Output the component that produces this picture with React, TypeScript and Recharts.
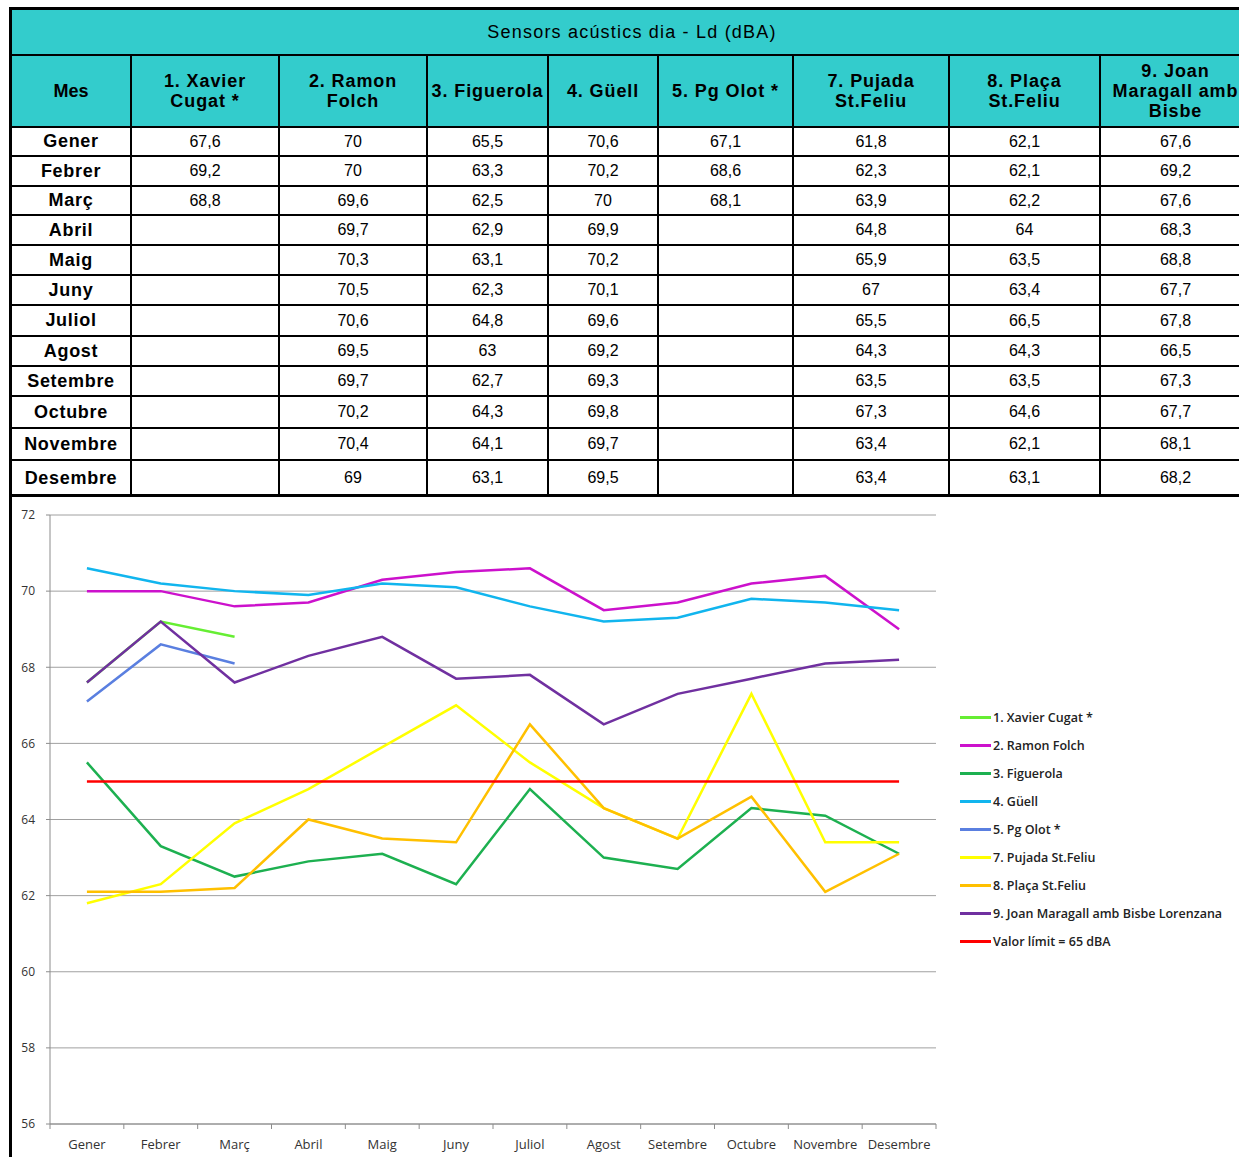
import React from "react";
import { CartesianGrid, Line, LineChart, XAxis, YAxis } from "recharts";

const months = [
  "Gener", "Febrer", "Març", "Abril", "Maig", "Juny",
  "Juliol", "Agost", "Setembre", "Octubre", "Novembre", "Desembre",
];

const xavierCugat = [67.6, 69.2, 68.8, null, null, null, null, null, null, null, null, null];
const ramonFolch = [70, 70, 69.6, 69.7, 70.3, 70.5, 70.6, 69.5, 69.7, 70.2, 70.4, 69];
const figuerola = [65.5, 63.3, 62.5, 62.9, 63.1, 62.3, 64.8, 63, 62.7, 64.3, 64.1, 63.1];
const guell = [70.6, 70.2, 70, 69.9, 70.2, 70.1, 69.6, 69.2, 69.3, 69.8, 69.7, 69.5];
const pgOlot = [67.1, 68.6, 68.1, null, null, null, null, null, null, null, null, null];
const pujadaStFeliu = [61.8, 62.3, 63.9, 64.8, 65.9, 67, 65.5, 64.3, 63.5, 67.3, 63.4, 63.4];
const placaStFeliu = [62.1, 62.1, 62.2, 64, 63.5, 63.4, 66.5, 64.3, 63.5, 64.6, 62.1, 63.1];
const joanMaragall = [67.6, 69.2, 67.6, 68.3, 68.8, 67.7, 67.8, 66.5, 67.3, 67.7, 68.1, 68.2];
const valorLimit = [65, 65, 65, 65, 65, 65, 65, 65, 65, 65, 65, 65];

const yTicks = [56, 58, 60, 62, 64, 66, 68, 70, 72];

const series = [
  { key: "s1", name: "1. Xavier Cugat *", header: ["1. Xavier", "Cugat *"], color: "#66EE33", data: xavierCugat },
  { key: "s2", name: "2. Ramon Folch", header: ["2. Ramon", "Folch"], color: "#CC11CC", data: ramonFolch },
  { key: "s3", name: "3. Figuerola", header: ["3. Figuerola"], color: "#1DB050", data: figuerola },
  { key: "s4", name: "4. Güell", header: ["4. Güell"], color: "#11B5EE", data: guell },
  { key: "s5", name: "5. Pg Olot *", header: ["5. Pg Olot *"], color: "#5A7FE0", data: pgOlot },
  { key: "s7", name: "7. Pujada St.Feliu", header: ["7. Pujada", "St.Feliu"], color: "#FFFF00", data: pujadaStFeliu },
  { key: "s8", name: "8. Plaça St.Feliu", header: ["8. Plaça", "St.Feliu"], color: "#FFC000", data: placaStFeliu },
  { key: "s9", name: "9. Joan Maragall amb Bisbe Lorenzana", header: ["9. Joan", "Maragall amb", "Bisbe"], color: "#7030A0", data: joanMaragall },
];

const limitSeries = { key: "limit", name: "Valor límit = 65 dBA", color: "#FF0000", data: valorLimit };

const chartData = months.map((m, i) => {
  const row: Record<string, string | number | null> = { month: m, limit: valorLimit[i] };
  series.forEach((s) => {
    row[s.key] = s.data[i];
  });
  return row;
});

const colWidths = [120, 148, 148, 121, 110, 135, 156, 151, 151];
const rowHeights = [29, 30, 29, 30, 30, 30, 31, 30, 30, 32, 32, 36];
const teal = "#33CCCC";
const tableFont = "'Liberation Sans', Arial, sans-serif";
const chartFont = "'Open Sans', 'Noto Sans', sans-serif";

const fmt = (v: number | null) => (v == null ? "" : String(v).replace(".", ","));

const plotWidth = 886;
const bandWidth = plotWidth / months.length;

const MonthTick = (props: any) => {
  const { x, y, payload, index } = props;
  const left = x - bandWidth / 2;
  const right = x + bandWidth / 2;
  return (
    <g>
      <line x1={left} y1={y} x2={left} y2={y + 5} stroke="#8c8c8c" strokeWidth={1} />
      {index === months.length - 1 && (
        <line x1={right} y1={y} x2={right} y2={y + 5} stroke="#8c8c8c" strokeWidth={1} />
      )}
      <text x={x} y={y + 25} textAnchor="middle" fontSize={13} fontWeight={500} fill="#333" fontFamily={chartFont}>
        {payload.value}
      </text>
    </g>
  );
};

function DataTable() {
  const cell = (w: number, h: number, extra: React.CSSProperties = {}): React.CSSProperties => ({
    width: w,
    height: h,
    boxSizing: "border-box",
    borderRight: "2px solid #000",
    display: "flex",
    alignItems: "center",
    justifyContent: "center",
    textAlign: "center",
    flexShrink: 0,
    ...extra,
  });
  return (
    <div
      style={{
        position: "absolute",
        left: 9,
        top: 7,
        width: 1260,
        borderLeft: "3px solid #000",
        borderTop: "3px solid #000",
        fontFamily: tableFont,
        color: "#000",
      }}
    >
      <div
        style={{
          height: 46,
          boxSizing: "border-box",
          background: teal,
          borderBottom: "2px solid #000",
          display: "flex",
          alignItems: "center",
          justifyContent: "center",
          fontSize: 18,
          letterSpacing: 1.2,
          width: colWidths.reduce((a, b) => a + b, 0),
        }}
      >
        Sensors acústics dia - Ld (dBA)
      </div>
      <div style={{ display: "flex", borderBottom: "2px solid #000", height: 72, boxSizing: "border-box" }}>
        <div style={cell(colWidths[0], 70, { background: teal, fontWeight: "bold", fontSize: 18 })}>Mes</div>
        {series.map((s, i) => (
          <div
            key={s.key}
            style={cell(colWidths[i + 1], 70, {
              background: teal,
              fontWeight: "bold",
              fontSize: 18,
              lineHeight: "20px",
              flexDirection: "column",
              letterSpacing: 0.9,
              whiteSpace: "nowrap",
            })}
          >
            {s.header.map((l) => (
              <span key={l}>{l}</span>
            ))}
          </div>
        ))}
      </div>
      {months.map((m, r) => (
        <div
          key={m}
          style={{
            display: "flex",
            height: rowHeights[r],
            boxSizing: "border-box",
            borderBottom: r === months.length - 1 ? "3px solid #000" : "2px solid #000",
            background: "#fff",
          }}
        >
          <div style={cell(colWidths[0], rowHeights[r] - 2, { fontWeight: "bold", fontSize: 18, letterSpacing: 0.7 })}>
            {m}
          </div>
          {series.map((s, i) => (
            <div key={s.key} style={cell(colWidths[i + 1], rowHeights[r] - 2, { fontSize: 16 })}>
              {fmt(s.data[r])}
            </div>
          ))}
        </div>
      ))}
    </div>
  );
}

function ChartLegend() {
  const items = [...series, limitSeries];
  return (
    <div
      style={{
        position: "absolute",
        left: 960,
        top: 703,
        fontFamily: chartFont,
        fontSize: 12.5,
        fontWeight: 600,
        color: "#222",
      }}
    >
      {items.map((s) => (
        <div key={s.key} style={{ display: "flex", alignItems: "center", height: 28, whiteSpace: "nowrap" }}>
          <span style={{ display: "inline-block", width: 31, height: 3, background: s.color, marginRight: 2 }} />
          <span>{s.name}</span>
        </div>
      ))}
    </div>
  );
}

export default function App() {
  return (
    <div style={{ position: "absolute", left: 0, top: 0, width: 1239, height: 1157, overflow: "hidden", background: "#fff" }}>
      <DataTable />
      <div style={{ position: "absolute", left: 9, top: 496, width: 3, height: 661, background: "#000" }} />
      <div style={{ position: "absolute", left: 0, top: 496 }}>
        <LineChart
          width={1239}
          height={661}
          data={chartData}
          margin={{ top: 19, right: 303, bottom: 0, left: 0 }}
        >
          <CartesianGrid horizontal vertical={false} stroke="#a0a0a0" strokeWidth={1} />
          <XAxis
            dataKey="month"
            scale="band"
            interval={0}
            height={33}
            axisLine={{ stroke: "#8c8c8c" }}
            tickLine={false}
            tickSize={0}
            tickMargin={0}
            tick={<MonthTick />}
          />
          <YAxis
            type="number"
            domain={[56, 72]}
            ticks={yTicks}
            width={50}
            axisLine={{ stroke: "#8c8c8c" }}
            tickLine={{ stroke: "#8c8c8c" }}
            tickSize={4}
            tickMargin={11}
            tick={{ fontSize: 12, fill: "#333", fontFamily: chartFont, fontWeight: 500 }}
          />
          {series.map((s) => (
            <Line
              key={s.key}
              type="linear"
              dataKey={s.key}
              name={s.name}
              stroke={s.color}
              strokeWidth={2.5}
              dot={false}
              activeDot={false}
              isAnimationActive={false}
            />
          ))}
          <Line
            type="linear"
            dataKey="limit"
            name={limitSeries.name}
            stroke={limitSeries.color}
            strokeWidth={2.5}
            dot={false}
            activeDot={false}
            isAnimationActive={false}
          />
        </LineChart>
      </div>
      <ChartLegend />
    </div>
  );
}
